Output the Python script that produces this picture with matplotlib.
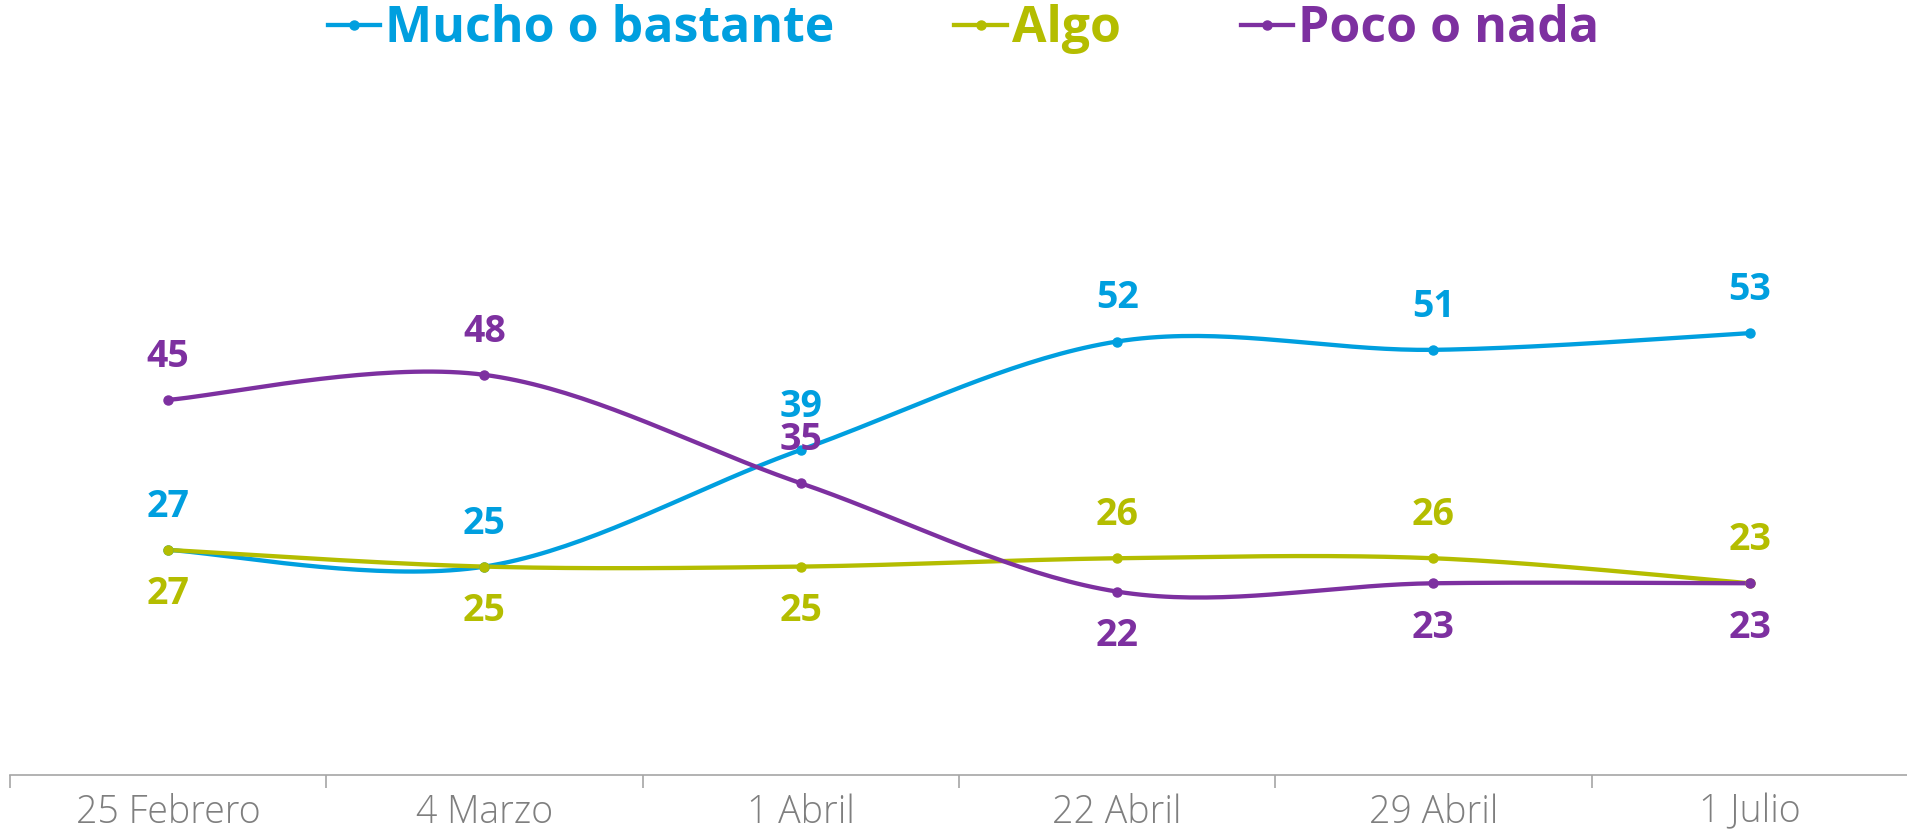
import numpy as np
import matplotlib
matplotlib.use("Agg")
import matplotlib.pyplot as plt
from matplotlib.lines import Line2D

plt.rcParams['font.family'] = ['Open Sans', 'DejaVu Sans']

fechas = ["25 Febrero", "4 Marzo", "1 Abril", "22 Abril", "29 Abril", "1 Julio"]
mucho = [27, 25, 39, 52, 51, 53]
algo = [27, 25, 25, 26, 26, 23]
poco = [45, 48, 35, 22, 23, 23]

series = [
    ("Mucho o bastante", mucho, "#009FDF", ["above"] * 6),
    ("Algo", algo, "#B4BD00", ["below", "below", "below", "above", "above", "above"]),
    ("Poco o nada", poco, "#7D30A0", ["above", "above", "above", "below", "below", "below"]),
]


def smooth(ys, n=40):
    # Excel-style smoothed line: cubic bezier between points
    xs = np.arange(len(ys), dtype=float)
    ys = np.asarray(ys, dtype=float)
    px = np.concatenate([[xs[0]], xs, [xs[-1]]])
    py = np.concatenate([[ys[0]], ys, [ys[-1]]])
    out_x, out_y = [], []
    t = np.linspace(0, 1, n)
    for i in range(len(ys) - 1):
        p0 = np.array([px[i + 1], py[i + 1]])
        p3 = np.array([px[i + 2], py[i + 2]])
        c1 = p0 + (p3 - np.array([px[i], py[i]])) / 6
        c2 = p3 - (np.array([px[i + 3], py[i + 3]]) - p0) / 6
        b = ((1 - t) ** 3)[:, None] * p0 + (3 * (1 - t) ** 2 * t)[:, None] * c1 \
            + (3 * (1 - t) * t ** 2)[:, None] * c2 + (t ** 3)[:, None] * p3
        out_x.extend(b[:, 0])
        out_y.extend(b[:, 1])
    return out_x, out_y


fig = plt.figure(figsize=(19.08, 8.32), dpi=100)
ax = fig.add_axes([0.0052, 0.0685, 0.9948, 0.8016])

handles = []
for name, vals, color, pos in series:
    sx, sy = smooth(vals)
    ax.plot(sx, sy, color=color, lw=3.1, solid_capstyle="round", zorder=2)
    ax.plot(range(len(vals)), vals, "o", color=color, ms=6.5, zorder=3)
    for i, v in enumerate(vals):
        off = 31 if pos[i] == "above" else -32
        ax.annotate(str(v), (i, v), xytext=(0, off), textcoords="offset points",
                    ha="center", va="center", fontsize=27, fontweight="bold",
                    color=color, zorder=4)
    handles.append(Line2D([0], [0], color=color, lw=3.1, marker="o", ms=6.5))

ax.set_xlim(-0.5, 5.5)
ax.set_ylim(0, 80)
ax.set_yticks([])
for s in ["top", "right", "left"]:
    ax.spines[s].set_visible(False)
ax.spines["bottom"].set_color("#A6A6A6")
ax.spines["bottom"].set_linewidth(1.2)
ax.set_xticks(range(len(fechas)))
ax.set_xticklabels(fechas, fontsize=27, color="#7F7F7F", fontweight="light")
ax.tick_params(axis="x", length=0, pad=13)
ax.set_xticks(np.arange(-0.5, 6, 1), minor=True)
ax.tick_params(axis="x", which="minor", length=9, color="#A6A6A6", width=1.2)

leg = fig.legend(handles, [s[0] for s in series], loc="center", ncol=3,
                 bbox_to_anchor=(0.505, 0.965), frameon=False,
                 prop={"size": 36, "weight": "bold"}, handlelength=1.05,
                 handletextpad=0.1, columnspacing=2.4)
for txt, s in zip(leg.get_texts(), series):
    txt.set_color(s[2])

fig.savefig("out.png", dpi=100)
